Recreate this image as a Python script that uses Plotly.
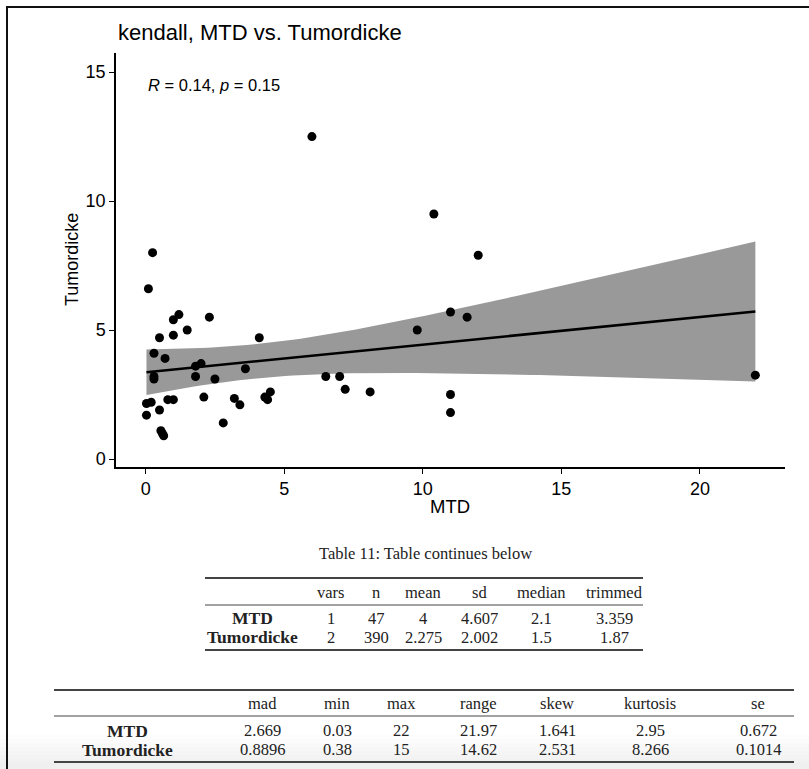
import numpy as np
import plotly.graph_objects as go

# ---- data ----
mtd = [6.0, 0.25, 0.1, 1.2, 1.0, 2.3, 1.5, 0.5, 1.0, 4.1, 0.3, 0.7, 2.0, 1.8, 3.6,
       0.3, 0.3, 1.8, 2.5, 6.5, 7.0, 7.2, 8.1, 4.5, 4.3, 4.4, 2.1, 3.2, 3.4, 0.8,
       1.0, 0.2, 0.03, 0.5, 0.03, 2.8, 0.55, 0.6, 0.65, 10.4, 12.0, 11.0, 11.6, 9.8,
       11.0, 11.0, 22.0]
tumordicke = [12.5, 8.0, 6.6, 5.6, 5.4, 5.5, 5.0, 4.7, 4.8, 4.7, 4.1, 3.9, 3.7, 3.6, 3.5,
              3.2, 3.1, 3.2, 3.1, 3.2, 3.2, 2.7, 2.6, 2.6, 2.4, 2.3, 2.4, 2.35, 2.1, 2.3,
              2.3, 2.2, 2.15, 1.9, 1.7, 1.4, 1.1, 1.0, 0.9, 9.5, 7.9, 5.7, 5.5, 5.0,
              2.5, 1.8, 3.25]
x_ticks = [0, 5, 10, 15, 20]
y_ticks = [0, 5, 10, 15]
r_value = 0.14
p_value = 0.15

table1_cols = ["vars", "n", "mean", "sd", "median", "trimmed"]
table1_rows = ["MTD", "Tumordicke"]
table1_vals = [["1", "47", "4", "4.607", "2.1", "3.359"],
               ["2", "390", "2.275", "2.002", "1.5", "1.87"]]
table2_cols = ["mad", "min", "max", "range", "skew", "kurtosis", "se"]
table2_vals = [["2.669", "0.03", "22", "21.97", "1.641", "2.95", "0.672"],
               ["0.8896", "0.38", "15", "14.62", "2.531", "8.266", "0.1014"]]
caption = "Table 11: Table continues below"

# ---- linear fit + 95% confidence band ----
x = np.array(mtd, dtype=float)
y = np.array(tumordicke, dtype=float)
n = len(x)
b1, b0 = np.polyfit(x, y, 1)
resid = y - (b0 + b1 * x)
s = np.sqrt(np.sum(resid ** 2) / (n - 2))
xm = x.mean()
sxx = np.sum((x - xm) ** 2)
tq = 2.0141  # t(0.975, df=45)
xs = np.linspace(x.min(), x.max(), 80)
ys = b0 + b1 * xs
se = s * np.sqrt(1 / n + (xs - xm) ** 2 / sxx)
upper = ys + tq * se
lower = ys - tq * se

W, H = 809, 769
L, R, T, B = 116, 785, 53, 467
PW, PH = R - L, B - T


def px(v):
    return (v - L) / PW


def py(v):
    return (B - v) / PH


fig = go.Figure()
fig.add_trace(go.Scatter(x=np.concatenate([xs, xs[::-1]]), y=np.concatenate([upper, lower[::-1]]),
                         fill="toself", fillcolor="#999999", line=dict(width=0),
                         mode="lines", hoverinfo="skip", showlegend=False))
fig.add_trace(go.Scatter(x=x, y=y, mode="markers",
                         marker=dict(color="black", size=9), showlegend=False))
fig.add_trace(go.Scatter(x=xs, y=ys, mode="lines", line=dict(color="black", width=2.5),
                         showlegend=False))

sans = "Liberation Sans, Arial, sans-serif"
serif = "Liberation Serif, Times New Roman, serif"

ann = []
ann.append(dict(text="kendall, MTD vs. Tumordicke", x=px(116), y=py(32), xref="paper", yref="paper",
                xanchor="left", yanchor="middle", showarrow=False,
                font=dict(family=sans, size=22, color="black")))
ann.append(dict(text=f"<i>R</i> = {r_value}, <i>p</i> = {p_value}", x=min(mtd), y=14.5,
                xref="x", yref="y", xanchor="left", yanchor="middle", showarrow=False,
                font=dict(family=sans, size=16.5, color="black")))
ann.append(dict(text="MTD", x=px(450), y=py(506), xref="paper", yref="paper",
                xanchor="center", yanchor="middle", showarrow=False,
                font=dict(family=sans, size=18.5, color="black")))
ann.append(dict(text="Tumordicke", x=px(72), y=py(260), xref="paper", yref="paper",
                xanchor="center", yanchor="middle", showarrow=False, textangle=-90,
                font=dict(family=sans, size=18, color="black")))
ann.append(dict(text=caption, x=px(425), y=py(553), xref="paper", yref="paper",
                xanchor="center", yanchor="middle", showarrow=False,
                font=dict(family=serif, size=16.5, color="#222")))

shapes = []


def hrule(x0, x1, yy, w):
    shapes.append(dict(type="line", xref="paper", yref="paper", x0=px(x0), x1=px(x1),
                       y0=py(yy), y1=py(yy), line=dict(color="#444", width=w)))


def txt(t, xx, yy, bold=False, size=16.5):
    ann.append(dict(text=f"<b>{t}</b>" if bold else t, x=px(xx), y=py(yy), xref="paper",
                    yref="paper", xanchor="center", yanchor="middle", showarrow=False,
                    font=dict(family=serif, size=size, color="#222")))


# table 1
t1x = [331, 376, 423, 479, 541, 614]
hrule(205, 643, 578, 2)
hrule(205, 643, 605, 1)
hrule(205, 643, 650, 2)
for c, xx in zip(table1_cols, t1x):
    txt(c, xx, 592)
for r, (lab, vals) in enumerate(zip(table1_rows, table1_vals)):
    yy = [618, 637][r]
    txt(lab, 252, yy, bold=True, size=17.5)
    for v, xx in zip(vals, t1x):
        txt(v, xx, yy)

# table 2
t2x = [262, 337, 401, 478, 557, 650, 758]
hrule(54, 794, 690, 2)
hrule(54, 794, 716, 1)
hrule(54, 794, 762, 2)
for c, xx in zip(table2_cols, t2x):
    txt(c, xx, 703)
for r, (lab, vals) in enumerate(zip(table1_rows, table2_vals)):
    yy = [730.5, 749.5][r]
    txt(lab, 127, yy, bold=True, size=17.5)
    for v, xx in zip(vals, t2x):
        txt(v, xx, yy)

# frame of the page and bottom shading
for k in range(8):
    y0 = 735 + k * 4
    shapes.append(dict(type="rect", xref="paper", yref="paper", x0=px(0), x1=px(W),
                       y0=py(y0), y1=py(H), fillcolor="#888", opacity=0.015,
                       line=dict(width=0), layer="below"))
shapes.append(dict(type="line", xref="paper", yref="paper", x0=px(7), x1=px(7),
                   y0=py(6), y1=py(H), line=dict(color="#111", width=2)))
shapes.append(dict(type="line", xref="paper", yref="paper", x0=px(6), x1=px(W),
                   y0=py(7), y1=py(7), line=dict(color="#111", width=2)))

fig.update_layout(
    width=W, height=H,
    margin=dict(l=L, r=W - R, t=T, b=H - B, pad=0),
    paper_bgcolor="white", plot_bgcolor="white",
    showlegend=False,
    annotations=ann, shapes=shapes,
    font=dict(family=sans, color="black"),
)
fig.update_xaxes(range=[-1.07, 23.07], tickvals=x_ticks, ticks="outside", ticklen=5,
                 tickwidth=1.2, tickcolor="black", showline=True, linecolor="black",
                 linewidth=1.5, showgrid=False, zeroline=False,
                 tickfont=dict(family=sans, size=18, color="black"))
fig.update_yaxes(range=[-0.31, 15.74], tickvals=y_ticks, ticks="outside", ticklen=5,
                 tickwidth=1.2, tickcolor="black", showline=True, linecolor="black",
                 linewidth=1.5, showgrid=False, zeroline=False,
                 tickfont=dict(family=sans, size=18, color="black"))

fig.write_html("out.html")
